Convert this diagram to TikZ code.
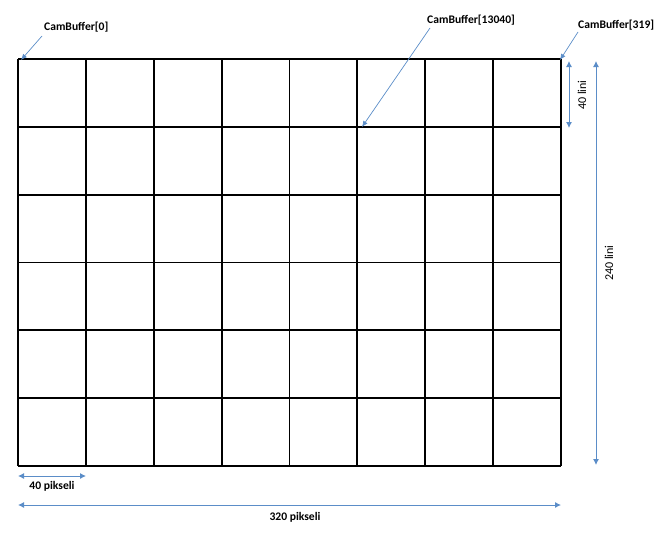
\documentclass[tikz,border=0pt]{standalone}
\usepackage{fontspec}
\setmainfont{Carlito}
\usetikzlibrary{arrows.meta}
\definecolor{dimblue}{RGB}{91,141,200}
\tikzset{
  gridline/.style={line width=1.8pt, black},
  lbl/.style={font=\bfseries\fontsize{11.6}{13}\selectfont, inner sep=0pt},
  dimlbl/.style={font=\fontsize{12}{14}\selectfont, inner sep=0pt},
  pointer/.style={dimblue, line width=0.7pt, -{Latex[length=6pt,width=5pt]}},
  dimarrow/.style={dimblue, line width=0.9pt, {Latex[length=6pt,width=6pt]}-{Latex[length=6pt,width=6pt]}}
}
\begin{document}
\begin{tikzpicture}[x=1pt,y=-1pt]
\useasboundingbox (0,0) rectangle (663,538);
% grid
\foreach \i in {0,...,8} {
  \draw[gridline] ({18+\i*67.875},59) -- ({18+\i*67.875},466);
}
\foreach \j in {0,...,6} {
  \draw[gridline] (18,{59+\j*67.83}) -- (561,{59+\j*67.83});
}
\coordinate (c0) at (21,60);
\coordinate (c13040) at (362,127);
\coordinate (c319) at (560,60);
% labels
\node[lbl, anchor=west] (l0) at (44,27) {CamBuffer[0]};
\node[lbl, anchor=west] (l13040) at (427,20) {CamBuffer[13040]};
\node[lbl, anchor=west] (l319) at (578,25) {CamBuffer[319]};
\draw[pointer] (42,36) -- (c0);
\draw[pointer] (430,28) -- (c13040);
\draw[pointer] (578,32) -- (c319);
% dimensions
\coordinate (a1) at (569,61);
\coordinate (a2) at (569,128);
\draw[dimarrow] (a1) -- (a2);
\node[dimlbl, rotate=90] (t40l) at (582,95) {40 lini};
\coordinate (b1) at (596,61);
\coordinate (b2) at (596,465);
\draw[dimarrow] (b1) -- (b2);
\node[dimlbl, rotate=90] (t240) at (609,263) {240 lini};
\coordinate (p1) at (18,476);
\coordinate (p2) at (86,476);
\draw[dimarrow] (p1) -- (p2);
\node[lbl] (t40p) at (52,486) {40 pikseli};
\coordinate (q1) at (18,505);
\coordinate (q2) at (561,505);
\draw[dimarrow] (q1) -- (q2);
\node[lbl] (t320) at (295,517) {320 pikseli};
\end{tikzpicture}
\end{document}
